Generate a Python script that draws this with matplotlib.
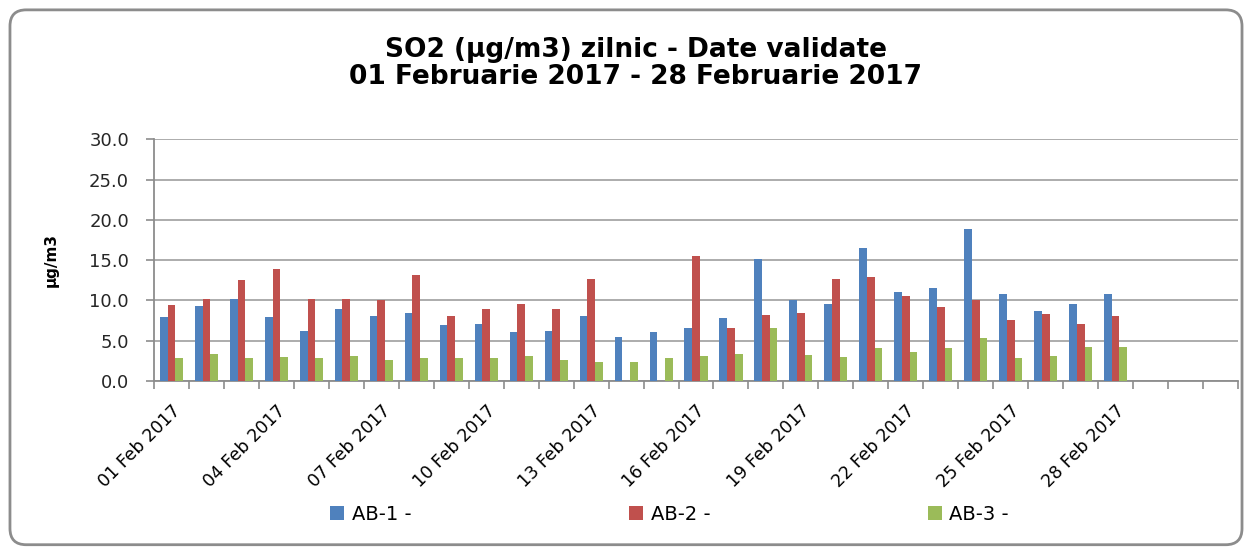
import numpy as np
import matplotlib
matplotlib.use("Agg")
import matplotlib.pyplot as plt
from matplotlib.patches import FancyBboxPatch

# daily SO2 values (µg/m3), 01-28 Feb 2017
days = list(range(1, 29))
ab1 = [8.0, 9.3, 10.2, 8.0, 6.2, 8.9, 8.1, 8.4, 7.0, 7.1,
       6.1, 6.2, 8.1, 5.5, 6.1, 6.6, 7.8, 15.1, 10.0, 9.5,
       16.5, 11.1, 11.6, 18.9, 10.8, 8.7, 9.6, 10.8]
ab2 = [9.4, 10.2, 12.6, 13.9, 10.2, 10.2, 10.0, 13.1, 8.1, 8.9,
       9.5, 9.0, 12.7, np.nan, np.nan, 15.5, 6.6, 8.2, 8.5, 12.7,
       12.9, 10.5, 9.2, 10.0, 7.6, 8.3, 7.1, 8.1]
ab3 = [2.9, 3.3, 2.8, 3.0, 2.9, 3.1, 2.6, 2.9, 2.8, 2.8,
       3.1, 2.6, 2.4, 2.4, 2.9, 3.1, 3.3, 6.6, 3.2, 3.0,
       4.1, 3.6, 4.1, 5.3, 2.8, 3.1, 4.2, 4.2]
series_names = ["AB-1 -", "AB-2 -", "AB-3 -"]
colors = ["#4F81BD", "#C0504D", "#9BBB59"]

tick_labels = [f"{d:02d} Feb 2017" for d in days[::3]]
n_slots = 31  # the category axis runs on past the last day

fig = plt.figure(figsize=(12.47, 5.48), dpi=100)

# rounded chart border, kept behind the axes
frame = FancyBboxPatch((0.008, 0.006), 0.988, 0.976,
                       boxstyle="round,pad=0,rounding_size=0.013",
                       transform=fig.transFigure, facecolor="white",
                       edgecolor="#8c8c8c", linewidth=2, mutation_aspect=12.47 / 5.48,
                       zorder=-5)
fig.patches.append(frame)

ax = fig.add_axes([0.1235, 0.3047, 0.8693, 0.4411])
ax.set_facecolor("none")
ax.set_zorder(2)

x = np.arange(len(days))
w = 0.22
for i, (vals, col, name) in enumerate(zip([ab1, ab2, ab3], colors, series_names)):
    ax.bar(x + (i - 1) * w + 0.5, vals, width=w, color=col, label=name, zorder=3)

ax.set_xlim(0, n_slots)
ax.set_ylim(0, 30)
ax.set_yticks(np.arange(0, 31, 5))
ax.set_yticklabels([f"{v:.1f}" for v in np.arange(0, 31, 5)])
ax.yaxis.grid(True, color="#a6a6a6", linewidth=1.3, zorder=0)

ax.set_xticks(np.arange(0, n_slots + 1), minor=True)
ax.set_xticks(x[::3] + 0.5)
ax.set_xticklabels(tick_labels, rotation=45, ha="right", va="top",
                   rotation_mode="anchor", fontsize=12.5)
ax.tick_params(axis="x", which="major", length=0, pad=15)
ax.tick_params(axis="x", which="minor", length=6, color="#8c8c8c", width=1.2)
ax.tick_params(axis="y", length=6, color="#8c8c8c", width=1.2, labelsize=13, pad=12,
               labelcolor="#262626")

for side in ["top", "right"]:
    ax.spines[side].set_visible(False)
for side in ["left", "bottom"]:
    ax.spines[side].set_color("#8c8c8c")
    ax.spines[side].set_linewidth(1.3)

ax.set_ylabel("µg/m3", fontsize=11, fontweight="bold", labelpad=22)

fig.text(0.51, 0.884, "SO2 (µg/m3) zilnic - Date validate\n01 Februarie 2017 - 28 Februarie 2017",
         ha="center", va="center", fontsize=19, fontweight="bold", linespacing=1.05)

fig.legend(loc="center", bbox_to_anchor=(0.537, 1 - 514 / 548), ncol=3, frameon=False,
           fontsize=14, handlelength=0.7, handleheight=0.7, handletextpad=0.4,
           columnspacing=11.2)

plt.savefig("out.png", dpi=100)
plt.close()
